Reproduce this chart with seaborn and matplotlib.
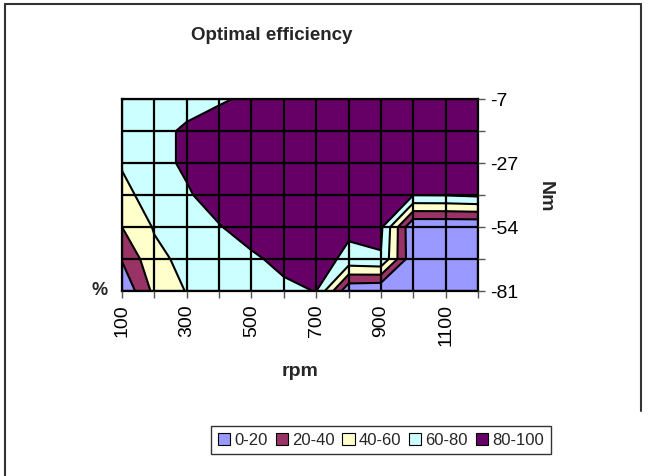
import numpy as np
import seaborn as sns
from matplotlib import pyplot as plt
from matplotlib.patches import Patch
from matplotlib.lines import Line2D

# engine speed (columns) and torque rows (top to bottom)
rpm = [100, 200, 300, 400, 500, 600, 700, 800, 900, 1000, 1100, 1200]
torque = [-7, -17, -27, -41, -54, -68, -81]  # only -7/-27/-54/-81 are labelled

# efficiency in %, one list per torque row
eff_m7 = [68, 72, 75, 78, 83, 88, 92, 94, 95, 95, 94, 93]
eff_m17 = [66, 76, 82, 88, 92, 95, 97, 98, 98, 97, 96, 95]
eff_m27 = [62, 74, 83, 90, 94, 97, 98, 98, 97, 96, 94, 93]
eff_m41 = [53.7, 69.5, 78, 88, 93, 96, 97, 96, 92, 80.5, 81, 84]
eff_m54 = [40, 61.7, 70, 79, 88, 93, 95, 84, 84, 0, 0, 0]
eff_m68 = [21.5, 54.5, 65.7, 71, 77, 85, 89, 75, 78.5, 3, 2, 2]
eff_m81 = [3, 45, 61, 66, 71, 76, 80.5, 3, 0, 0, 0, 0]

levels = [0, 20, 40, 60, 80, 100]
band_labels = ['0-20', '20-40', '40-60', '60-80', '80-100']
band_colors = ['#9999FF', '#993366', '#FFFFCC', '#CCFFFF', '#660066']

W, H = 652, 477


def main():
    sns.set_style('ticks')
    plt.rcParams['font.family'] = ['Liberation Sans', 'DejaVu Sans']

    fig = plt.figure(figsize=(W / 100, H / 100), dpi=100)
    ax = fig.add_axes([122 / W, 1 - 292 / H, 356 / W, 192 / H])

    z = np.array([eff_m7, eff_m17, eff_m27, eff_m41, eff_m54, eff_m68, eff_m81])
    rows = np.arange(len(torque))
    pal = sns.color_palette(band_colors)

    ax.contourf(rpm, rows, z, levels=levels, colors=pal)
    ax.contour(rpm, rows, z, levels=levels[1:-1], colors='black', linewidths=1.5)

    ax.set_xlim(rpm[0], rpm[-1])
    ax.set_ylim(rows[-1], rows[0])
    ax.set_xticks(rpm)
    ax.set_xticklabels([str(r) if i % 2 == 0 else '' for i, r in enumerate(rpm)], rotation=90)
    ax.set_yticks(rows)
    ax.set_yticklabels([str(t) if i % 2 == 0 else '' for i, t in enumerate(torque)])
    ax.yaxis.tick_right()
    ax.grid(True, color='black', linewidth=1.6)
    ax.set_axisbelow(False)
    for s in ax.spines.values():
        s.set_visible(True)
        s.set_color('black')
        s.set_linewidth(1.6)
    ax.tick_params(axis='both', direction='out', length=5, width=1, color='#555555',
                   labelsize=14, labelcolor='black')
    ax.tick_params(axis='x', pad=4)
    ax.tick_params(axis='y', pad=4)

    fig.text(272 / W, 1 - 36 / H, 'Optimal efficiency', ha='center', va='center',
             fontsize=13.5, weight='bold')
    fig.text(300 / W, 1 - 372 / H, 'rpm', ha='center', va='center', fontsize=14, weight='bold')
    fig.text(545 / W, 1 - 197 / H, 'Nm', ha='center', va='center', fontsize=14,
             weight='bold', rotation=-90)
    fig.text(100 / W, 1 - 291 / H, '%', ha='center', va='center', fontsize=13, weight='bold')

    handles = [Patch(facecolor=c, edgecolor='black', linewidth=0.8) for c in pal]
    leg = fig.legend(handles, band_labels, loc='center', ncol=5,
                     bbox_to_anchor=(381 / W, 1 - 441 / H), fontsize=12,
                     frameon=True, fancybox=False, shadow=False,
                     handlelength=0.75, handleheight=0.75, handletextpad=0.25,
                     columnspacing=0.45, borderpad=0.4)
    leg.get_frame().set_edgecolor('black')
    leg.get_frame().set_linewidth(1.0)

    # outer chart frame
    fig.add_artist(Line2D([4.5 / W, 4.5 / W], [0, 1 - 5 / H], color='#333333', lw=1.5))
    fig.add_artist(Line2D([4.5 / W, 641 / W], [1 - 5 / H, 1 - 5 / H], color='#333333', lw=1.5))
    fig.add_artist(Line2D([641 / W, 641 / W], [1 - 5 / H, 1 - 412 / H], color='#333333', lw=1.5))

    fig.savefig('out.png', dpi=100)


if __name__ == '__main__':
    main()
